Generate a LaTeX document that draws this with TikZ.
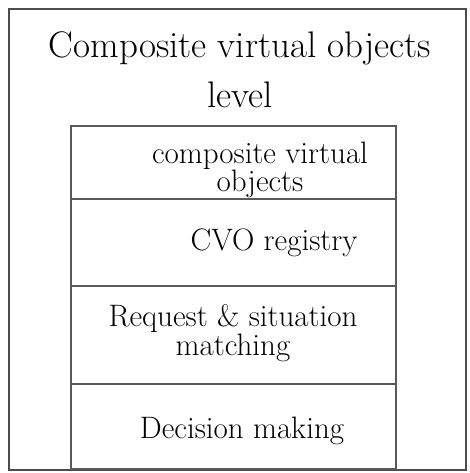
\documentclass[tikz,border=0pt]{standalone}
\begin{document}
\begin{tikzpicture}[x=1pt,y=-1pt,
  frame/.style={draw=black!70, line width=1.6pt, anchor=north west, inner sep=0pt},
  rowbox/.style={draw=black!65, line width=1.6pt, anchor=north west, inner sep=0pt, minimum width=325pt},
  hand/.style={font=\fontsize{31}{27}\selectfont, align=center, inner sep=0pt}]
\useasboundingbox (0,0) rectangle (470,473);
\node[frame, minimum width=457pt, minimum height=461pt] (outer) at (8,8) {};
\node[rowbox, minimum height=73pt] (r1) at (70,125) {};
\node[rowbox, minimum height=87pt] (r2) at (70,198) {};
\node[rowbox, minimum height=98pt] (r3) at (70,285) {};
\node[rowbox, minimum height=85pt] (r4) at (70,383) {};
\node[hand, font=\fontsize{37}{50}\selectfont] (title) at (240,70) {Composite virtual objects\\level};
\node[hand] (t1) at (260,170) {composite virtual\\objects};
\node[hand] (t2) at (274,243) {CVO registry};
\node[hand] (t3) at (233,333) {Request \& situation\\matching};
\node[hand] (t4) at (242,431) {Decision making};
\end{tikzpicture}
\end{document}
